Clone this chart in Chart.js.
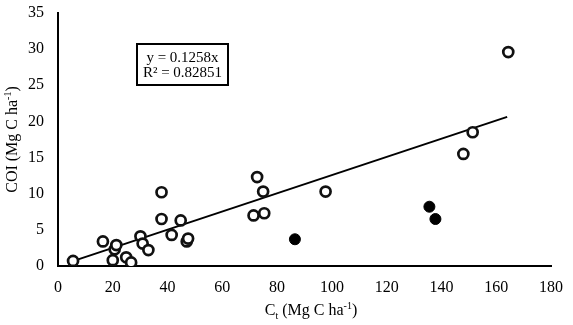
<!DOCTYPE html>
<html>
<head>
<meta charset="utf-8">
<script src="https://cdn.jsdelivr.net/npm/chart.js@4"></script>
<style>
  html, body { margin: 0; padding: 0; background: #fff; }
  #wrap { width: 573px; height: 325px; }
</style>
</head>
<body>
<div id="wrap"><canvas id="myChart"></canvas></div>
<script>
// open circles
const openX = [5.5, 16.4, 20.0, 20.7, 21.3, 24.9, 26.7, 30.1, 30.9, 33.0, 37.8, 37.8, 41.5, 44.8, 47.0, 47.5, 71.4, 72.7, 74.9, 75.3, 97.7, 148.0, 151.4, 164.4];
const openY = [0.7, 3.4, 0.8, 2.3, 2.9, 1.2, 0.5, 4.1, 3.1, 2.2, 10.2, 6.5, 4.3, 6.3, 3.4, 3.8, 7.0, 12.3, 10.3, 7.3, 10.3, 15.5, 18.5, 29.6];
// filled circles
const fillX = [86.5, 135.6, 137.8];
const fillY = [3.7, 8.2, 6.5];
// trend line y = 0.1258x, drawn between the end points
const trendX = [6, 164];
const trendY = [0.75, 20.63];
const xTicks = [0, 20, 40, 60, 80, 100, 120, 140, 160, 180];
const yTicks = [0, 5, 10, 15, 20, 25, 30, 35];

const FONT = '"Liberation Serif", "Times New Roman", serif';

function pts(xs, ys){
    return xs.map((x, i) => ({x: x, y: ys[i]}));
}

// draws text made of parts, some of them sub/superscript
function drawRich(ctx, parts, x, y, size){
    const small = Math.round(size * 0.65);
    let w = 0;
    parts.forEach(p => {
        ctx.font = (p.sub || p.sup ? small : size) + 'px ' + FONT;
        p.w = ctx.measureText(p.t).width;
        w += p.w;
    });
    let cx = x - w / 2;
    parts.forEach(p => {
        ctx.font = (p.sub || p.sup ? small : size) + 'px ' + FONT;
        let dy = 0;
        if(p.sub) dy = size * 0.25;
        if(p.sup) dy = -size * 0.4;
        ctx.fillText(p.t, cx, y + dy);
        cx += p.w;
    });
}

const extras = {
    id: 'extras',
    afterDraw(chart){
        const ctx = chart.ctx;
        const a = chart.chartArea;
        ctx.save();
        ctx.fillStyle = '#000';
        ctx.textAlign = 'left';
        ctx.textBaseline = 'alphabetic';

        // x title
        drawRich(ctx, [{t:'C'}, {t:'t', sub:true}, {t:' (Mg C ha'}, {t:'-1', sup:true}, {t:')'}], 311, 315, 16);

        // y title
        ctx.save();
        ctx.translate(17, (a.top + a.bottom) / 2);
        ctx.rotate(-Math.PI / 2);
        drawRich(ctx, [{t:'COI (Mg C ha'}, {t:'-1', sup:true}, {t:')'}], 0, 0, 16);
        ctx.restore();

        // equation box
        const bx = a.left + 79, by = a.top + 31, bw = 91, bh = 41;
        ctx.fillStyle = '#fff';
        ctx.fillRect(bx, by, bw, bh);
        ctx.strokeStyle = '#000';
        ctx.lineWidth = 2;
        ctx.strokeRect(bx, by, bw, bh);
        ctx.fillStyle = '#000';
        ctx.font = '15px ' + FONT;
        ctx.textAlign = 'center';
        ctx.fillText('y = 0.1258x', bx + bw / 2, by + 18);
        ctx.fillText('R² = 0.82851', bx + bw / 2, by + 33);
        ctx.restore();
    }
};

const ctx = document.getElementById('myChart');

new Chart(ctx, {
    type: 'scatter',
    data: {
        datasets: [
            {
                type: 'line',
                data: pts(trendX, trendY),
                borderColor: '#000',
                borderWidth: 2,
                pointRadius: 0,
                fill: false,
                order: 3
            },
            {
                data: pts(openX, openY),
                backgroundColor: '#fff',
                borderColor: '#111',
                borderWidth: 2.7,
                pointRadius: 5,
                order: 2
            },
            {
                data: pts(fillX, fillY),
                backgroundColor: '#000',
                borderColor: '#000',
                borderWidth: 1,
                pointRadius: 5.5,
                order: 1
            }
        ]
    },
    options: {
        responsive: true,
        maintainAspectRatio: false,
        animation: false,
        layout: { padding: { top: 13, right: 22, left: 0, bottom: 0 } },
        plugins: { legend: { display: false }, tooltip: { enabled: false } },
        scales: {
            x: {
                type: 'linear',
                min: 0, max: 180,
                afterBuildTicks: s => { s.ticks = xTicks.map(v => ({value: v})); },
                afterFit: s => { s.height = 59; s.paddingLeft = 0; s.paddingRight = 0; },
                grid: { display: false, drawTicks: false },
                border: { display: true, color: '#000', width: 2 },
                ticks: { color: '#000', padding: 12, font: { family: FONT, size: 16 } }
            },
            y: {
                type: 'linear',
                min: 0, max: 35,
                afterBuildTicks: s => { s.ticks = yTicks.map(v => ({value: v})); },
                afterFit: s => { s.width = 58; s.paddingTop = 0; s.paddingBottom = 0; },
                grid: { display: false, drawTicks: false },
                border: { display: true, color: '#000', width: 2 },
                ticks: { color: '#000', padding: 14, font: { family: FONT, size: 16 } }
            }
        }
    },
    plugins: [extras]
});
</script>
</body>
</html>
